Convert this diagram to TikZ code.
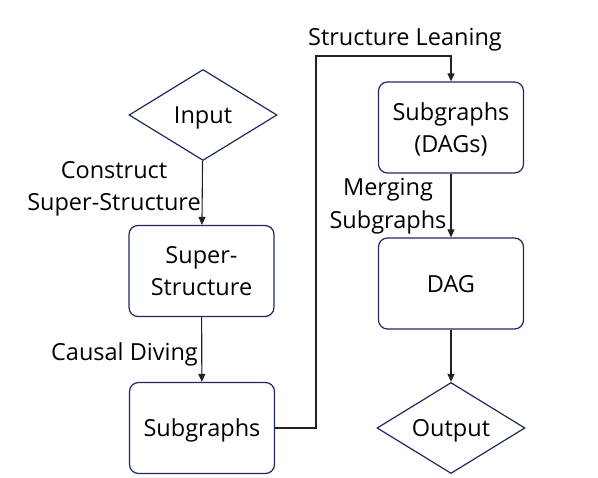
\documentclass[tikz,border=0pt]{standalone}
\usepackage{fontspec}
\setmainfont{Open Sans}
\usetikzlibrary{shapes.geometric,arrows.meta}
\definecolor{navy}{HTML}{1F2A5C}
\definecolor{ink}{HTML}{222222}
\begin{document}
\begin{tikzpicture}[x=1pt,y=-1pt,
  box/.style={draw=navy,line width=1.2pt,rounded corners=9pt,minimum width=145pt,minimum height=91pt,align=center,inner sep=0pt,text depth=0pt,font=\fontsize{23.5}{32.5}\selectfont},
  dia/.style={draw=navy,line width=1.2pt,diamond,aspect=1.62,minimum width=148pt,minimum height=91pt,inner sep=0pt,text depth=0pt,font=\fontsize{23.5}{32.5}\selectfont},
  conn/.style={draw=ink,line width=1.1pt,-{Triangle[length=8pt,width=7pt]}},
  lbl/.style={align=center,font=\fontsize{23.5}{32.5}\selectfont,inner sep=0pt}]
\useasboundingbox (0,0) rectangle (598,478);
\node[dia] (in) at (203,115) {Input};
\node[box] (ss) at (201.5,271) {Super-\\Structure};
\node[box] (sg) at (202,428) {Subgraphs};
\node[box] (dg) at (451,127.5) {Subgraphs\\(DAGs)};
\node[box] (dag) at (451,283.5) {DAG};
\node[dia] (out) at (451,428) {Output};
\coordinate (c1) at (316,428);
\coordinate (c2) at (316,56);
\coordinate (c3) at (451,56);
\draw[conn] (in) -- (ss);
\draw[conn] (ss) -- (sg);
\draw[conn] (sg.east) -- (c1) -- (c2) -- (c3) -- (dg.north);
\draw[conn] (dg) -- (dag);
\draw[conn] (dag) -- (out);
\node[lbl] (l1) at (114,189) {Construct\\Super-Structure};
\node[lbl] (l2) at (124.5,354) {Causal Diving};
\node[lbl] (l3) at (405,40) {Structure Leaning};
\node[lbl] (l4) at (388,206) {Merging\\Subgraphs};
\end{tikzpicture}
\end{document}
